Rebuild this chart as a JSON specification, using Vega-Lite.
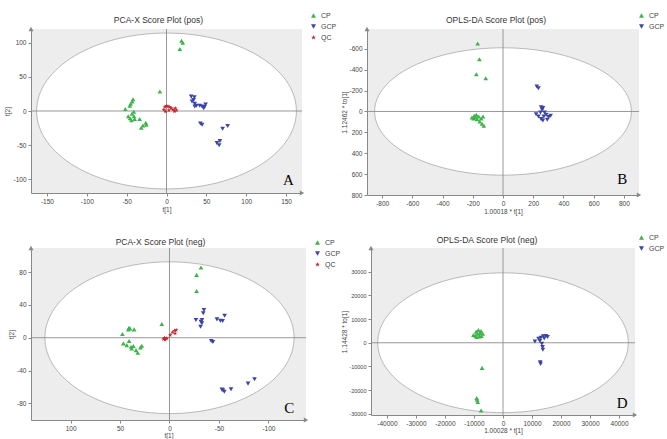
{
  "$schema": "https://vega.github.io/schema/vega-lite/v6.json",
  "background": "white",
  "padding": {"left": 4, "top": 12, "right": 0, "bottom": 0},
  "config": {
    "locale": {"number": {"decimal": ".", "thousands": ",", "grouping": [3], "currency": ["$", ""], "minus": "-"}},
    "view": {"fill": "#ededed", "stroke": null},
    "axis": {"labelFont": "Liberation Sans", "labelFontSize": 6.5, "labelColor": "#444", "titleFont": "Liberation Sans", "titleFontSize": 6.5, "titleFontWeight": "normal", "titleColor": "#444", "gridColor": "#d6d6d6", "gridWidth": 0.8, "domainColor": "#888", "tickColor": "#888", "tickSize": 3, "zindex": 1, "labelPadding": 2, "titlePadding": 2, "labelOverlap": false},
    "title": {"font": "Liberation Sans", "fontSize": 8.5, "fontWeight": "normal", "color": "#333", "frame": "group", "anchor": "middle"},
    "legend": {"labelFont": "Liberation Sans", "labelFontSize": 7, "labelColor": "#444", "symbolSize": 25, "rowPadding": 3}
  },
  "spacing": 19,
  "resolve": {"scale": {"color": "independent", "shape": "independent"}, "legend": {"color": "independent", "shape": "independent"}},
  "vconcat": [
    {
      "spacing": 4,
      "resolve": {"scale": {"color": "independent", "shape": "independent"}, "legend": {"color": "independent", "shape": "independent"}},
      "hconcat": [
        {
          "width": 271, "height": 164,
          "title": {"text": "PCA-X Score Plot (pos)", "offset": -12, "dx": -8},
          "layer": [
            {"data": {"values": [{}]}, "mark": {"type": "point", "shape": "M-1,0A1,0.6,0,1,0,1,0A1,0.6,0,1,0,-1,0Z", "size": 67500, "filled": true, "fill": "#ffffff", "stroke": "#a8a8a8", "strokeWidth": 0.8, "opacity": 1, "clip": true},
             "encoding": {"x": {"datum": 0, "type": "quantitative", "scale": {"domain": [-170, 170], "nice": false, "zero": false}, "axis": {"title": "t[1]", "values": [-150, -100, -50, 0, 50, 100, 150]}}, "y": {"datum": 0, "type": "quantitative", "scale": {"domain": [-120, 120], "nice": false, "zero": false}, "axis": {"title": "t[2]", "values": [-100, -50, 0, 50, 100]}}}},
            {"data": {"values": [{}]}, "mark": {"type": "rule", "color": "#8c8c8c", "strokeWidth": 0.9}, "encoding": {"x": {"datum": 0, "type": "quantitative", "axis": {"title": "t[1]", "values": [-150, -100, -50, 0, 50, 100, 150]}}}},
            {"data": {"values": [{}]}, "mark": {"type": "rule", "color": "#8c8c8c", "strokeWidth": 0.9}, "encoding": {"y": {"datum": 0, "type": "quantitative", "axis": {"title": "t[2]", "values": [-100, -50, 0, 50, 100]}}}},
            {"data": {"values": [{}]}, "mark": {"type": "point", "shape": "triangle-up", "filled": true, "color": "#888", "size": 25, "opacity": 1}, "encoding": {"x": {"datum": -170, "type": "quantitative", "axis": {"title": "t[1]", "values": [-150, -100, -50, 0, 50, 100, 150]}}, "y": {"datum": 120, "type": "quantitative", "axis": {"title": "t[2]", "values": [-100, -50, 0, 50, 100]}}}},
            {"data": {"values": [{}]}, "mark": {"type": "point", "shape": "triangle-right", "filled": true, "color": "#888", "size": 25, "opacity": 1}, "encoding": {"x": {"datum": 170, "type": "quantitative", "axis": {"title": "t[1]", "values": [-150, -100, -50, 0, 50, 100, 150]}}, "y": {"datum": -120, "type": "quantitative", "axis": {"title": "t[2]", "values": [-100, -50, 0, 50, 100]}}}},
            {
              "data": {"values": [
                {"t1": 18.8, "t2": 102.7, "group": "CP"}, {"t1": 20.4, "t2": 100, "group": "CP"}, {"t1": 16.7, "t2": 90.6, "group": "CP"}, {"t1": -8.3, "t2": 28.4, "group": "CP"}, {"t1": -42, "t2": 17.3, "group": "CP"}, {"t1": -43, "t2": 14, "group": "CP"}, {"t1": -45, "t2": 10.6, "group": "CP"}, {"t1": -46, "t2": 7.7, "group": "CP"}, {"t1": -51.7, "t2": 2.9, "group": "CP"}, {"t1": -43.3, "t2": -3.9, "group": "CP"}, {"t1": -40.8, "t2": -7.7, "group": "CP"}, {"t1": -45.8, "t2": -10.6, "group": "CP"}, {"t1": -44, "t2": -13.5, "group": "CP"}, {"t1": -40, "t2": -11.6, "group": "CP"}, {"t1": -33.7, "t2": -11.6, "group": "CP"}, {"t1": -29.6, "t2": -21.2, "group": "CP"}, {"t1": -31.7, "t2": -24.6, "group": "CP"}, {"t1": -26, "t2": -17.3, "group": "CP"}, {"t1": -25.4, "t2": -20.2, "group": "CP"}, {"t1": -48, "t2": -7.7, "group": "CP"}, {"t1": -41, "t2": -1, "group": "CP"},
                {"t1": 31, "t2": 21, "group": "GCP"}, {"t1": 35, "t2": 20, "group": "GCP"}, {"t1": 34, "t2": 16, "group": "GCP"}, {"t1": 32, "t2": 14, "group": "GCP"}, {"t1": 35.4, "t2": 10.6, "group": "GCP"}, {"t1": 37.5, "t2": 7.7, "group": "GCP"}, {"t1": 41.7, "t2": 7.7, "group": "GCP"}, {"t1": 44.6, "t2": 6.7, "group": "GCP"}, {"t1": 47.5, "t2": 5.8, "group": "GCP"}, {"t1": 49, "t2": 9.6, "group": "GCP"}, {"t1": 46.7, "t2": 3.9, "group": "GCP"}, {"t1": 35.4, "t2": 6.7, "group": "GCP"}, {"t1": 42.5, "t2": -18.3, "group": "GCP"}, {"t1": 44.6, "t2": -20, "group": "GCP"}, {"t1": 70.4, "t2": -26, "group": "GCP"}, {"t1": 76.7, "t2": -22, "group": "GCP"}, {"t1": 63.3, "t2": -47, "group": "GCP"}, {"t1": 66, "t2": -50, "group": "GCP"}, {"t1": 67, "t2": -44, "group": "GCP"},
                {"t1": -3.3, "t2": 2, "group": "QC"}, {"t1": -2, "t2": 6, "group": "QC"}, {"t1": 0, "t2": 7.7, "group": "QC"}, {"t1": 2, "t2": 6.7, "group": "QC"}, {"t1": 4, "t2": 5.8, "group": "QC"}, {"t1": 5.8, "t2": 4.3, "group": "QC"}, {"t1": 8, "t2": 2, "group": "QC"}, {"t1": 10, "t2": -0.5, "group": "QC"}, {"t1": 12.5, "t2": 1, "group": "QC"}, {"t1": -1.2, "t2": -1, "group": "QC"}, {"t1": 3, "t2": 1, "group": "QC"}, {"t1": 11, "t2": 3.9, "group": "QC"}
              ]},
              "mark": {"type": "point", "filled": true, "size": 22, "opacity": 1},
              "encoding": {
                "x": {"field": "t1", "type": "quantitative", "scale": {"domain": [-170, 170], "nice": false, "zero": false}, "axis": {"title": "t[1]", "values": [-150, -100, -50, 0, 50, 100, 150]}},
                "y": {"field": "t2", "type": "quantitative", "scale": {"domain": [-120, 120], "nice": false, "zero": false}, "axis": {"title": "t[2]", "values": [-100, -50, 0, 50, 100]}},
                "color": {"field": "group", "type": "nominal", "scale": {"domain": ["CP", "GCP", "QC"], "range": ["#3cb44a", "#3b45a8", "#c4262c"]}, "legend": {"orient": "none", "legendX": 279, "legendY": -17, "title": null}},
                "shape": {"field": "group", "type": "nominal", "scale": {"domain": ["CP", "GCP", "QC"], "range": ["triangle-up", "triangle-down", "M0,-1L0.235,-0.324L0.951,-0.309L0.38,0.124L0.588,0.809L0,0.4L-0.588,0.809L-0.38,0.124L-0.951,-0.309L-0.235,-0.324Z"]}, "legend": {"orient": "none", "legendX": 279, "legendY": -17, "title": null}}
              }
            },
            {"data": {"values": [{}]}, "mark": {"type": "text", "text": "A", "font": "Liberation Serif", "fontSize": 15, "color": "#000", "align": "center", "baseline": "middle"}, "encoding": {"x": {"datum": 153, "type": "quantitative", "axis": {"title": "t[1]", "values": [-150, -100, -50, 0, 50, 100, 150]}}, "y": {"datum": -101, "type": "quantitative", "axis": {"title": "t[2]", "values": [-100, -50, 0, 50, 100]}}}}
          ]
        },
        {
          "width": 272, "height": 166,
          "title": {"text": "OPLS-DA Score Plot (pos)", "offset": -12, "dx": -7},
          "layer": [
            {"data": {"values": [{}]}, "mark": {"type": "point", "shape": "M-1,0A1,0.496,0,1,0,1,0A1,0.496,0,1,0,-1,0Z", "size": 65950, "filled": true, "fill": "#ffffff", "stroke": "#a8a8a8", "strokeWidth": 0.8, "opacity": 1, "clip": true},
             "encoding": {"x": {"datum": 0, "type": "quantitative", "scale": {"domain": [-900, 900], "nice": false, "zero": false}, "axis": {"title": "1.00018 * t[1]", "values": [-800, -600, -400, -200, 0, 200, 400, 600, 800]}}, "y": {"datum": 0, "type": "quantitative", "scale": {"domain": [-790, 800], "nice": false, "zero": false, "reverse": true}, "axis": {"title": "1.12462 * to[1]", "titlePadding": 1, "values": [-600, -400, -200, 0, 200, 400, 600, 800]}}}},
            {"data": {"values": [{}]}, "mark": {"type": "rule", "color": "#8c8c8c", "strokeWidth": 0.9}, "encoding": {"x": {"datum": 0, "type": "quantitative", "axis": {"title": "1.00018 * t[1]", "values": [-800, -600, -400, -200, 0, 200, 400, 600, 800]}}}},
            {"data": {"values": [{}]}, "mark": {"type": "rule", "color": "#8c8c8c", "strokeWidth": 0.9}, "encoding": {"y": {"datum": 0, "type": "quantitative", "axis": {"title": "1.12462 * to[1]", "titlePadding": 1, "values": [-600, -400, -200, 0, 200, 400, 600, 800]}}}},
            {"data": {"values": [{}]}, "mark": {"type": "point", "shape": "triangle-up", "filled": true, "color": "#888", "size": 25, "opacity": 1}, "encoding": {"x": {"datum": -900, "type": "quantitative", "axis": {"title": "1.00018 * t[1]", "values": [-800, -600, -400, -200, 0, 200, 400, 600, 800]}}, "y": {"datum": -790, "type": "quantitative", "axis": {"title": "1.12462 * to[1]", "titlePadding": 1, "values": [-600, -400, -200, 0, 200, 400, 600, 800]}}}},
            {"data": {"values": [{}]}, "mark": {"type": "point", "shape": "triangle-right", "filled": true, "color": "#888", "size": 25, "opacity": 1}, "encoding": {"x": {"datum": 900, "type": "quantitative", "axis": {"title": "1.00018 * t[1]", "values": [-800, -600, -400, -200, 0, 200, 400, 600, 800]}}, "y": {"datum": 800, "type": "quantitative", "axis": {"title": "1.12462 * to[1]", "titlePadding": 1, "values": [-600, -400, -200, 0, 200, 400, 600, 800]}}}},
            {
              "data": {"values": [
                {"t1": -167.6, "t2": -651, "group": "CP"}, {"t1": -156, "t2": -501, "group": "CP"}, {"t1": -176.5, "t2": -357, "group": "CP"}, {"t1": -114, "t2": -319, "group": "CP"}, {"t1": -205.6, "t2": 57, "group": "CP"}, {"t1": -190, "t2": 41, "group": "CP"}, {"t1": -176.5, "t2": 32, "group": "CP"}, {"t1": -161, "t2": 48, "group": "CP"}, {"t1": -145, "t2": 67, "group": "CP"}, {"t1": -132, "t2": 48, "group": "CP"}, {"t1": -154, "t2": 96, "group": "CP"}, {"t1": -139, "t2": 118, "group": "CP"}, {"t1": -127, "t2": 137, "group": "CP"}, {"t1": -194, "t2": 67, "group": "CP"}, {"t1": -172, "t2": 73, "group": "CP"}, {"t1": -183, "t2": 54, "group": "CP"},
                {"t1": 223.5, "t2": -239, "group": "GCP"}, {"t1": 234.6, "t2": -223, "group": "GCP"}, {"t1": 252.5, "t2": -41, "group": "GCP"}, {"t1": 259, "t2": -16, "group": "GCP"}, {"t1": 248, "t2": 10, "group": "GCP"}, {"t1": 219, "t2": 26, "group": "GCP"}, {"t1": 234.6, "t2": 48, "group": "GCP"}, {"t1": 252.5, "t2": 73, "group": "GCP"}, {"t1": 270, "t2": 48, "group": "GCP"}, {"t1": 286, "t2": 32, "group": "GCP"}, {"t1": 302, "t2": 54, "group": "GCP"}, {"t1": 315, "t2": 41, "group": "GCP"}, {"t1": 275, "t2": 10, "group": "GCP"}, {"t1": 264, "t2": 86, "group": "GCP"}, {"t1": 293, "t2": 80, "group": "GCP"}, {"t1": 264, "t2": -32, "group": "GCP"}
              ]},
              "mark": {"type": "point", "filled": true, "size": 22, "opacity": 1},
              "encoding": {
                "x": {"field": "t1", "type": "quantitative", "scale": {"domain": [-900, 900], "nice": false, "zero": false}, "axis": {"title": "1.00018 * t[1]", "values": [-800, -600, -400, -200, 0, 200, 400, 600, 800]}},
                "y": {"field": "t2", "type": "quantitative", "scale": {"domain": [-790, 800], "nice": false, "zero": false, "reverse": true}, "axis": {"title": "1.12462 * to[1]", "titlePadding": 1, "values": [-600, -400, -200, 0, 200, 400, 600, 800]}},
                "color": {"field": "group", "type": "nominal", "scale": {"domain": ["CP", "GCP"], "range": ["#3cb44a", "#3b45a8"]}, "legend": {"orient": "none", "legendX": 271, "legendY": -17, "title": null}},
                "shape": {"field": "group", "type": "nominal", "scale": {"domain": ["CP", "GCP"], "range": ["triangle-up", "triangle-down"]}, "legend": {"orient": "none", "legendX": 271, "legendY": -17, "title": null}}
              }
            },
            {"data": {"values": [{}]}, "mark": {"type": "text", "text": "B", "font": "Liberation Serif", "fontSize": 15, "color": "#000", "align": "center", "baseline": "middle"}, "encoding": {"x": {"datum": 789, "type": "quantitative", "axis": {"title": "1.00018 * t[1]", "values": [-800, -600, -400, -200, 0, 200, 400, 600, 800]}}, "y": {"datum": 648, "type": "quantitative", "axis": {"title": "1.12462 * to[1]", "titlePadding": 1, "values": [-600, -400, -200, 0, 200, 400, 600, 800]}}}}
          ]
        }
      ]
    },
    {
      "spacing": 0,
      "resolve": {"scale": {"color": "independent", "shape": "independent"}, "legend": {"color": "independent", "shape": "independent"}},
      "hconcat": [
        {
          "width": 275, "height": 172,
          "title": {"text": "PCA-X Score Plot (neg)", "offset": -7, "dx": -8},
          "layer": [
            {"data": {"values": [{}]}, "mark": {"type": "point", "shape": "M-1,0A1,0.609,0,1,0,1,0A1,0.609,0,1,0,-1,0Z", "size": 62100, "filled": true, "fill": "#ffffff", "stroke": "#a8a8a8", "strokeWidth": 0.8, "opacity": 1, "clip": true},
             "encoding": {"x": {"datum": 0, "type": "quantitative", "scale": {"domain": [-138, 140], "nice": false, "zero": false, "reverse": true}, "axis": {"title": "t[1]", "titlePadding": 1, "values": [-100, -50, 0, 50, 100]}}, "y": {"datum": 0, "type": "quantitative", "scale": {"domain": [-100.4, 109.5], "nice": false, "zero": false}, "axis": {"title": "t[2]", "values": [-80, -40, 0, 40, 80]}}}},
            {"data": {"values": [{}]}, "mark": {"type": "rule", "color": "#8c8c8c", "strokeWidth": 0.9}, "encoding": {"x": {"datum": 0, "type": "quantitative", "axis": {"title": "t[1]", "titlePadding": 1, "values": [-100, -50, 0, 50, 100]}}}},
            {"data": {"values": [{}]}, "mark": {"type": "rule", "color": "#8c8c8c", "strokeWidth": 0.9}, "encoding": {"y": {"datum": 0, "type": "quantitative", "axis": {"title": "t[2]", "values": [-80, -40, 0, 40, 80]}}}},
            {"data": {"values": [{}]}, "mark": {"type": "point", "shape": "triangle-up", "filled": true, "color": "#888", "size": 25, "opacity": 1}, "encoding": {"x": {"datum": 140, "type": "quantitative", "axis": {"title": "t[1]", "titlePadding": 1, "values": [-100, -50, 0, 50, 100]}}, "y": {"datum": 109.5, "type": "quantitative", "axis": {"title": "t[2]", "values": [-80, -40, 0, 40, 80]}}}},
            {"data": {"values": [{}]}, "mark": {"type": "point", "shape": "triangle-right", "filled": true, "color": "#888", "size": 25, "opacity": 1}, "encoding": {"x": {"datum": -138, "type": "quantitative", "axis": {"title": "t[1]", "titlePadding": 1, "values": [-100, -50, 0, 50, 100]}}, "y": {"datum": -100.4, "type": "quantitative", "axis": {"title": "t[2]", "values": [-80, -40, 0, 40, 80]}}}},
            {
              "data": {"values": [
                {"t1": -31.8, "t2": 85.7, "group": "CP"}, {"t1": -27.4, "t2": 76.7, "group": "CP"}, {"t1": -27.4, "t2": 57, "group": "CP"}, {"t1": 7.8, "t2": 16.7, "group": "CP"}, {"t1": 47.6, "t2": 4.5, "group": "CP"}, {"t1": 41.6, "t2": 10.2, "group": "CP"}, {"t1": 39.9, "t2": 11.4, "group": "CP"}, {"t1": 35.8, "t2": 10.2, "group": "CP"}, {"t1": 46.6, "t2": -6.9, "group": "CP"}, {"t1": 43.2, "t2": -9, "group": "CP"}, {"t1": 40.9, "t2": -4.1, "group": "CP"}, {"t1": 38.9, "t2": -11, "group": "CP"}, {"t1": 36.5, "t2": -10.2, "group": "CP"}, {"t1": 33.8, "t2": -15.1, "group": "CP"}, {"t1": 32.1, "t2": -18.4, "group": "CP"}, {"t1": 29.4, "t2": -11.8, "group": "CP"}, {"t1": 28, "t2": -9.8, "group": "CP"}, {"t1": 38.2, "t2": -13.1, "group": "CP"}, {"t1": 41, "t2": 12, "group": "CP"},
                {"t1": -26.7, "t2": 21.6, "group": "GCP"}, {"t1": -31.8, "t2": 19.6, "group": "GCP"}, {"t1": -32.8, "t2": 21.6, "group": "GCP"}, {"t1": -31.4, "t2": 13.5, "group": "GCP"}, {"t1": -32.8, "t2": 17.6, "group": "GCP"}, {"t1": -34.8, "t2": 33.9, "group": "GCP"}, {"t1": -34.1, "t2": 29.8, "group": "GCP"}, {"t1": -48, "t2": 22.4, "group": "GCP"}, {"t1": -51.4, "t2": 20.8, "group": "GCP"}, {"t1": -53.7, "t2": 20.4, "group": "GCP"}, {"t1": -55.7, "t2": 26.9, "group": "GCP"}, {"t1": -42.2, "t2": -4.1, "group": "GCP"}, {"t1": -43.9, "t2": -5.3, "group": "GCP"}, {"t1": -53, "t2": -63.3, "group": "GCP"}, {"t1": -55.4, "t2": -66, "group": "GCP"}, {"t1": -62.2, "t2": -62.9, "group": "GCP"}, {"t1": -79.4, "t2": -56, "group": "GCP"}, {"t1": -86, "t2": -50.6, "group": "GCP"}, {"t1": -54, "t2": -64, "group": "GCP"},
                {"t1": 6.1, "t2": -1.6, "group": "QC"}, {"t1": 4.4, "t2": -2.4, "group": "QC"}, {"t1": 2.7, "t2": -0.8, "group": "QC"}, {"t1": -0.7, "t2": 3.3, "group": "QC"}, {"t1": -3, "t2": 6.5, "group": "QC"}, {"t1": -5.1, "t2": 8.6, "group": "QC"}, {"t1": -6.8, "t2": 9.4, "group": "QC"}, {"t1": -5.7, "t2": 5.3, "group": "QC"}, {"t1": 5.1, "t2": 0, "group": "QC"}
              ]},
              "mark": {"type": "point", "filled": true, "size": 22, "opacity": 1},
              "encoding": {
                "x": {"field": "t1", "type": "quantitative", "scale": {"domain": [-138, 140], "nice": false, "zero": false, "reverse": true}, "axis": {"title": "t[1]", "titlePadding": 1, "values": [-100, -50, 0, 50, 100]}},
                "y": {"field": "t2", "type": "quantitative", "scale": {"domain": [-100.4, 109.5], "nice": false, "zero": false}, "axis": {"title": "t[2]", "values": [-80, -40, 0, 40, 80]}},
                "color": {"field": "group", "type": "nominal", "scale": {"domain": ["CP", "GCP", "QC"], "range": ["#3cb44a", "#3b45a8", "#c4262c"]}, "legend": {"orient": "none", "legendX": 283, "legendY": -9, "title": null}},
                "shape": {"field": "group", "type": "nominal", "scale": {"domain": ["CP", "GCP", "QC"], "range": ["triangle-up", "triangle-down", "M0,-1L0.235,-0.324L0.951,-0.309L0.38,0.124L0.588,0.809L0,0.4L-0.588,0.809L-0.38,0.124L-0.951,-0.309L-0.235,-0.324Z"]}, "legend": {"orient": "none", "legendX": 283, "legendY": -9, "title": null}}
              }
            },
            {"data": {"values": [{}]}, "mark": {"type": "text", "text": "C", "font": "Liberation Serif", "fontSize": 15, "color": "#000", "align": "center", "baseline": "middle"}, "encoding": {"x": {"datum": -121, "type": "quantitative", "axis": {"title": "t[1]", "titlePadding": 1, "values": [-100, -50, 0, 50, 100]}}, "y": {"datum": -86, "type": "quantitative", "axis": {"title": "t[2]", "values": [-80, -40, 0, 40, 80]}}}}
          ]
        },
        {
          "width": 264, "height": 167,
          "title": {"text": "OPLS-DA Score Plot (neg)", "offset": -10, "dx": -16},
          "layer": [
            {"data": {"values": [{}]}, "mark": {"type": "point", "shape": "M-1,0A1,0.558,0,1,0,1,0A1,0.558,0,1,0,-1,0Z", "size": 62800, "filled": true, "fill": "#ffffff", "stroke": "#a8a8a8", "strokeWidth": 0.8, "opacity": 1, "clip": true},
             "encoding": {"x": {"datum": 0, "type": "quantitative", "scale": {"domain": [-45500, 45500], "nice": false, "zero": false}, "axis": {"title": "1.00028 * t[1]", "format": "d", "titlePadding": 1, "values": [-40000, -30000, -20000, -10000, 0, 10000, 20000, 30000, 40000]}}, "y": {"datum": 0, "type": "quantitative", "scale": {"domain": [-30500, 40000], "nice": false, "zero": false}, "axis": {"title": "1.14428 * to[1]", "format": "d", "labelFontSize": 5.5, "titlePadding": 1, "values": [-30000, -20000, -10000, 0, 10000, 20000, 30000]}}}},
            {"data": {"values": [{}]}, "mark": {"type": "rule", "color": "#8c8c8c", "strokeWidth": 0.9}, "encoding": {"x": {"datum": 0, "type": "quantitative", "axis": {"title": "1.00028 * t[1]", "format": "d", "titlePadding": 1, "values": [-40000, -30000, -20000, -10000, 0, 10000, 20000, 30000, 40000]}}}},
            {"data": {"values": [{}]}, "mark": {"type": "rule", "color": "#8c8c8c", "strokeWidth": 0.9}, "encoding": {"y": {"datum": 0, "type": "quantitative", "axis": {"title": "1.14428 * to[1]", "format": "d", "labelFontSize": 5.5, "titlePadding": 1, "values": [-30000, -20000, -10000, 0, 10000, 20000, 30000]}}}},
            {"data": {"values": [{}]}, "mark": {"type": "point", "shape": "triangle-up", "filled": true, "color": "#888", "size": 25, "opacity": 1}, "encoding": {"x": {"datum": -45500, "type": "quantitative", "axis": {"title": "1.00028 * t[1]", "format": "d", "titlePadding": 1, "values": [-40000, -30000, -20000, -10000, 0, 10000, 20000, 30000, 40000]}}, "y": {"datum": 40000, "type": "quantitative", "axis": {"title": "1.14428 * to[1]", "format": "d", "labelFontSize": 5.5, "titlePadding": 1, "values": [-30000, -20000, -10000, 0, 10000, 20000, 30000]}}}},
            {"data": {"values": [{}]}, "mark": {"type": "point", "shape": "triangle-right", "filled": true, "color": "#888", "size": 25, "opacity": 1}, "encoding": {"x": {"datum": 45500, "type": "quantitative", "axis": {"title": "1.00028 * t[1]", "format": "d", "titlePadding": 1, "values": [-40000, -30000, -20000, -10000, 0, 10000, 20000, 30000, 40000]}}, "y": {"datum": -30500, "type": "quantitative", "axis": {"title": "1.14428 * to[1]", "format": "d", "labelFontSize": 5.5, "titlePadding": 1, "values": [-30000, -20000, -10000, 0, 10000, 20000, 30000]}}}},
            {
              "data": {"values": [
                {"t1": -10195, "t2": 3255, "group": "CP"}, {"t1": -9280, "t2": 4670, "group": "CP"}, {"t1": -8477, "t2": 5377, "group": "CP"}, {"t1": -7560, "t2": 4953, "group": "CP"}, {"t1": -6987, "t2": 3821, "group": "CP"}, {"t1": -8133, "t2": 2689, "group": "CP"}, {"t1": -9507, "t2": 2972, "group": "CP"}, {"t1": -8706, "t2": 3821, "group": "CP"}, {"t1": -7904, "t2": 4104, "group": "CP"}, {"t1": -9049, "t2": 2406, "group": "CP"}, {"t1": -7446, "t2": 2830, "group": "CP"}, {"t1": -7216, "t2": -10613, "group": "CP"}, {"t1": -9049, "t2": -23348, "group": "CP"}, {"t1": -8706, "t2": -25046, "group": "CP"}, {"t1": -7560, "t2": -28583, "group": "CP"}, {"t1": -8935, "t2": -24055, "group": "CP"},
                {"t1": 10997, "t2": 566, "group": "GCP"}, {"t1": 12257, "t2": 1698, "group": "GCP"}, {"t1": 13058, "t2": 2122, "group": "GCP"}, {"t1": 13860, "t2": 2689, "group": "GCP"}, {"t1": 14777, "t2": 2830, "group": "GCP"}, {"t1": 15349, "t2": 2406, "group": "GCP"}, {"t1": 12715, "t2": 708, "group": "GCP"}, {"t1": 13402, "t2": -424, "group": "GCP"}, {"t1": 13631, "t2": -1840, "group": "GCP"}, {"t1": 13745, "t2": -2972, "group": "GCP"}, {"t1": 12830, "t2": -8207, "group": "GCP"}, {"t1": 12945, "t2": -8915, "group": "GCP"}, {"t1": 14204, "t2": 1840, "group": "GCP"}
              ]},
              "mark": {"type": "point", "filled": true, "size": 22, "opacity": 1},
              "encoding": {
                "x": {"field": "t1", "type": "quantitative", "scale": {"domain": [-45500, 45500], "nice": false, "zero": false}, "axis": {"title": "1.00028 * t[1]", "format": "d", "titlePadding": 1, "values": [-40000, -30000, -20000, -10000, 0, 10000, 20000, 30000, 40000]}},
                "y": {"field": "t2", "type": "quantitative", "scale": {"domain": [-30500, 40000], "nice": false, "zero": false}, "axis": {"title": "1.14428 * to[1]", "format": "d", "labelFontSize": 5.5, "titlePadding": 1, "values": [-30000, -20000, -10000, 0, 10000, 20000, 30000]}},
                "color": {"field": "group", "type": "nominal", "scale": {"domain": ["CP", "GCP"], "range": ["#3cb44a", "#3b45a8"]}, "legend": {"orient": "none", "legendX": 267, "legendY": -14, "title": null}},
                "shape": {"field": "group", "type": "nominal", "scale": {"domain": ["CP", "GCP"], "range": ["triangle-up", "triangle-down"]}, "legend": {"orient": "none", "legendX": 267, "legendY": -14, "title": null}}
              }
            },
            {"data": {"values": [{}]}, "mark": {"type": "text", "text": "D", "font": "Liberation Serif", "fontSize": 15, "color": "#000", "align": "center", "baseline": "middle"}, "encoding": {"x": {"datum": 41100, "type": "quantitative", "axis": {"title": "1.00028 * t[1]", "format": "d", "titlePadding": 1, "values": [-40000, -30000, -20000, -10000, 0, 10000, 20000, 30000, 40000]}}, "y": {"datum": -25470, "type": "quantitative", "axis": {"title": "1.14428 * to[1]", "format": "d", "labelFontSize": 5.5, "titlePadding": 1, "values": [-30000, -20000, -10000, 0, 10000, 20000, 30000]}}}}
          ]
        }
      ]
    }
  ]
}
